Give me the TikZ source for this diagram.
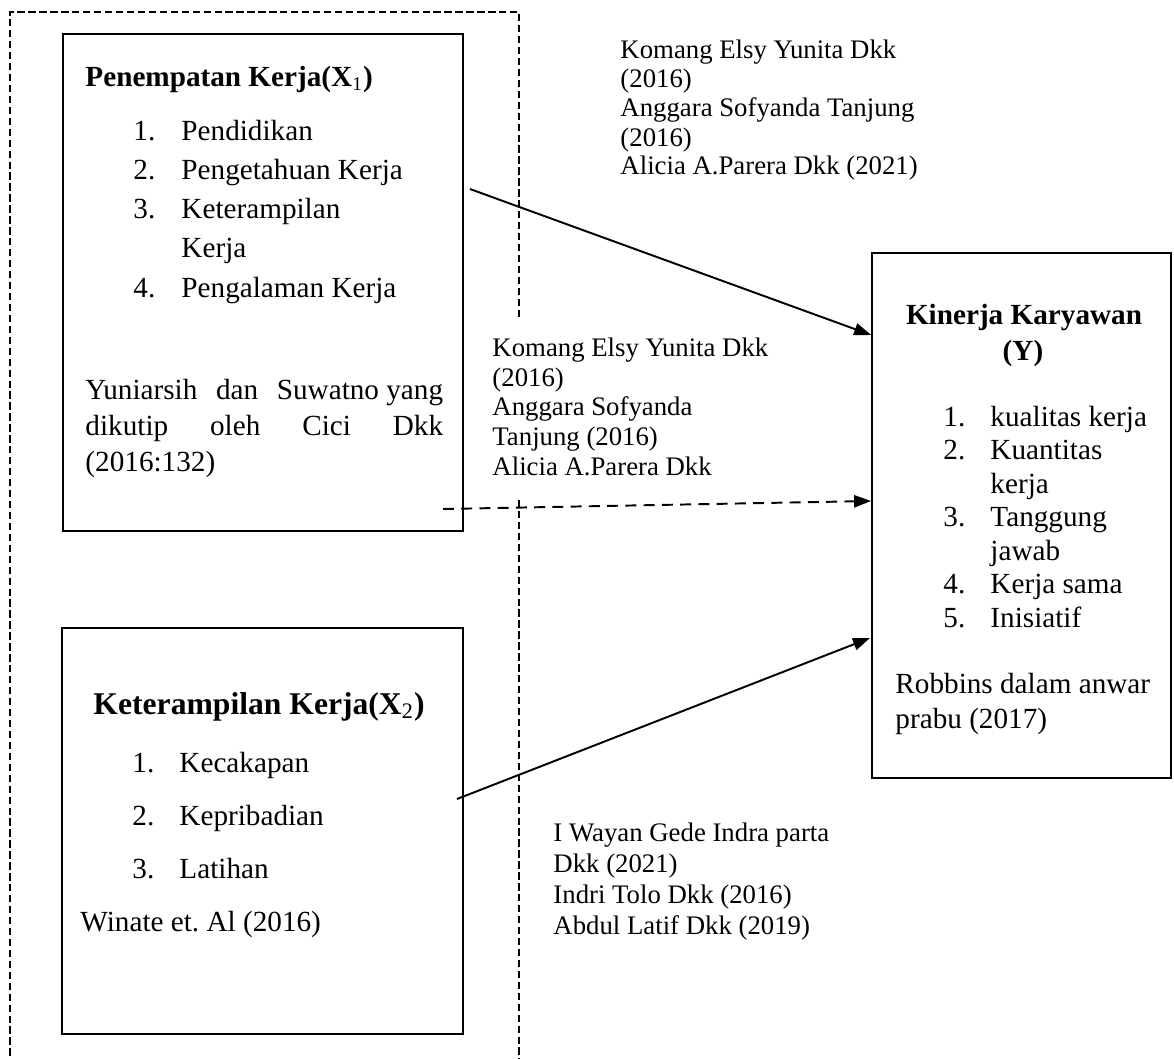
\documentclass[tikz,border=0pt]{standalone}
\usepackage{fontspec}
\setmainfont{Liberation Serif}
\frenchspacing
\usetikzlibrary{arrows.meta,fit}
\tikzset{
  box/.style={draw, line width=0.7pt, inner sep=0pt},
  frame/.style={draw, line width=0.45pt, dash pattern=on 3pt off 1.5pt},
  lbl/.style={anchor=base west, inner sep=0pt, font=\fontsize{12}{14}\selectfont},
  ctr/.style={anchor=base, inner sep=0pt},
  refs/.style={anchor=base west, inner sep=0pt, font=\fontsize{11}{13}\selectfont},
  ttl/.style={anchor=base west, inner sep=0pt, font=\bfseries\fontsize{12}{14}\selectfont},
  conn/.style={line width=0.8pt, -{Triangle[length=7pt,width=5pt]}},
  dconn/.style={conn, dash pattern=on 4.5pt off 3pt},
}
\begin{document}
\begin{tikzpicture}[x=0.411pt,y=-0.411pt]
\useasboundingbox (0,0) rectangle (1174,1059);
% outer dashed frame
\draw[frame] (519,317) -- (519,12) -- (10,12) -- (10,1059);
\draw[frame] (519,500) -- (519,1059);
% boxes
\node[box, fit={(63,34)(463,531)}] (X1) {};
\node[box, fit={(62,628)(463,1034)}] (X2) {};
\node[box, fit={(872,253)(1171,778)}] (Y) {};
% X1 content
\node[ttl] (x1t) at (85,86) {Penempatan Kerja(X\textsubscript{\mdseries 1})};
\node[lbl] (x1n1) at (133,140) {1.};
\node[lbl] (x1i1) at (181,140) {Pendidikan};
\node[lbl] (x1n2) at (133,179) {2.};
\node[lbl] (x1i2) at (181,179) {Pengetahuan Kerja};
\node[lbl] (x1n3) at (133,218) {3.};
\node[lbl] (x1i3) at (181,218) {Keterampilan};
\node[lbl] (x1i3b) at (181,257) {Kerja};
\node[lbl] (x1n4) at (133,297) {4.};
\node[lbl] (x1i4) at (181,297) {Pengalaman Kerja};
\node[lbl] (x1r1) at (85,399) {\makebox[147pt][l]{Yuniarsih\hfill dan\hfill Suwatno yang}};
\node[lbl] (x1r2) at (85,435) {\makebox[147pt][l]{dikutip\hfill oleh\hfill Cici\hfill Dkk}};
\node[lbl] (x1r3) at (85,471) {(2016:132)};
% X2 content
\node[ttl, font=\bfseries\fontsize{13}{15}\selectfont] (x2t) at (93,714) {Keterampilan Kerja(X\textsubscript{\mdseries 2})};
\node[lbl] (x2n1) at (132,772) {1.};
\node[lbl] (x2i1) at (179,772) {Kecakapan};
\node[lbl] (x2n2) at (132,825) {2.};
\node[lbl] (x2i2) at (179,825) {Kepribadian};
\node[lbl] (x2n3) at (132,878) {3.};
\node[lbl] (x2i3) at (179,878) {Latihan};
\node[lbl] (x2r) at (80,931) {Winate et. Al (2016)};
% Y content
\node[ctr, font=\bfseries\fontsize{12}{14}\selectfont] (yt1) at (1024,324) {Kinerja Karyawan};
\node[ctr, font=\bfseries\fontsize{12}{14}\selectfont] (yt2) at (1023,360) {(Y)};
\node[lbl] (yn1) at (943,426) {1.};
\node[lbl] (yi1) at (990,426) {kualitas kerja};
\node[lbl] (yn2) at (943,459.5) {2.};
\node[lbl] (yi2) at (990,459.5) {Kuantitas};
\node[lbl] (yi2b) at (990,493) {kerja};
\node[lbl] (yn3) at (943,526.5) {3.};
\node[lbl] (yi3) at (990,526.5) {Tanggung};
\node[lbl] (yi3b) at (990,560) {jawab};
\node[lbl] (yn4) at (943,593.5) {4.};
\node[lbl] (yi4) at (990,593.5) {Kerja sama};
\node[lbl] (yn5) at (943,627) {5.};
\node[lbl] (yi5) at (990,627) {Inisiatif};
\node[lbl] (yr1) at (895,693) {Robbins dalam anwar};
\node[lbl] (yr2) at (895,728) {prabu (2017)};
% reference texts
\node[refs] (ra1) at (620,58) {Komang Elsy Yunita Dkk};
\node[refs] (ra2) at (620,87) {(2016)};
\node[refs] (ra3) at (620,116) {Anggara Sofyanda Tanjung};
\node[refs] (ra4) at (620,146) {(2016)};
\node[refs] (ra5) at (620,174) {Alicia A.Parera Dkk (2021)};
\node[refs] (rb1) at (492,356) {Komang Elsy Yunita Dkk};
\node[refs] (rb2) at (492,386) {(2016)};
\node[refs] (rb3) at (492,415) {Anggara Sofyanda};
\node[refs] (rb4) at (492,445) {Tanjung (2016)};
\node[refs] (rb5) at (492,475) {Alicia A.Parera Dkk};
\node[refs] (rc1) at (553,841) {I Wayan Gede Indra parta};
\node[refs] (rc2) at (553,872) {Dkk (2021)};
\node[refs] (rc3) at (553,903) {Indri Tolo Dkk (2016)};
\node[refs] (rc4) at (553,934) {Abdul Latif Dkk (2019)};
% connectors
\coordinate (s1) at (470,189);
\coordinate (e1) at (Y.west |- 0,335);
\coordinate (s2) at (443,509);
\coordinate (e2) at (Y.west |- 0,501);
\coordinate (s3) at (457,799);
\coordinate (e3) at (870,638);
\draw[conn] (s1) -- (e1);
\draw[dconn] (s2) -- (e2);
\draw[conn] (s3) -- (e3);
\end{tikzpicture}
\end{document}
